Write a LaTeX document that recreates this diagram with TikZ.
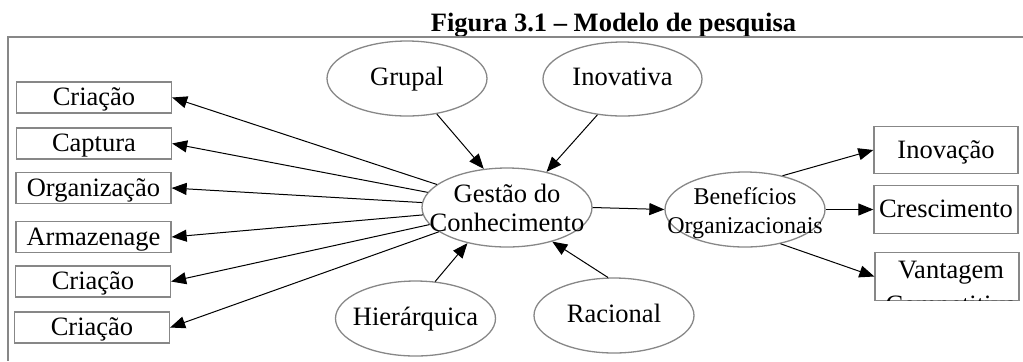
\documentclass[tikz,border=0pt]{standalone}
\usepackage{fontspec}
\setmainfont{Liberation Serif}
\usetikzlibrary{shapes.geometric,arrows.meta}

\definecolor{linegray}{RGB}{135,135,135}
\newcommand{\diagfont}{\fontsize{13.25}{14.5}\selectfont}
\newcommand{\smallfont}{\fontsize{12}{14.5}\selectfont}

\tikzset{
  lbox/.style={draw=linegray,line width=0.65pt,rectangle,inner sep=0pt,
    minimum width=77.5pt,minimum height=15.5pt,font=\diagfont,
    text height=.85em,text depth=.05em},
  rbox/.style={lbox,minimum width=72pt,minimum height=23.75pt},
  ell/.style={draw=linegray,line width=0.65pt,ellipse,inner sep=0pt,
    minimum width=80pt,minimum height=37.5pt},
  etxt/.style={font=\diagfont,align=center,inner sep=0pt},
  etxtone/.style={etxt,text height=.75em,text depth=.1em},
  arr/.style={-{Triangle[length=7.5pt,width=6pt]},line width=0.5pt}
}

\begin{document}
\begin{tikzpicture}[x=0.5pt,y=-0.5pt]
	\useasboundingbox (0,0) rectangle (1023,361);
	
	%TITLE AND FRAME
	\node[font=\diagfont\bfseries,anchor=base,inner sep=0pt] (title) at (613.5,31) {Figura 3.1 -- Modelo de pesquisa};
	\draw[draw=linegray,line width=0.65pt] (1023,37)--(8,37)--(8,361);
	
	%ELLIPSES
	\node[ell,label={[etxtone]center:Grupal}] (grupal) at (407,78.5) {};
	\node[ell,minimum width=79.5pt,minimum height=37pt,label={[etxtone]center:Inovativa}] (inova) at (622.5,79) {};
	\node[ell,minimum width=85pt,minimum height=39.5pt,label={[etxt]center:{Gestão do\\Conhecimento}}] (gc) at (507,207.5) {};
	\node[ell,label={[etxt,font=\smallfont,yshift=-2pt]center:{Benefícios\\Organizacionais}}] (ben) at (745,209.5) {};
	\node[ell,label={[etxtone]center:Hierárquica}] (hier) at (415.5,318.5) {};
	\node[ell,label={[etxtone]center:Racional}] (rac) at (614,315.5) {};
	
	%LEFT BOXES
	\node[lbox] (cri1) at (94,97.5) {Criação};
	\node[lbox] (capt) at (94,143.5) {Captura};
	\node[lbox] (org) at (93.5,188) {Organização};
	\node[lbox] (arm) at (93.5,237) {Armazenage};
	\node[lbox] (cri2) at (93,281.5) {Criação};
	\node[lbox] (cri3) at (92,327.5) {Criação};
	
	%RIGHT BOXES
	\node[rbox] (inov) at (946,150) {Inovação};
	\node[rbox] (cresc) at (946,209.5) {Crescimento};
	\node[rbox] (vant) at (947,276.5) {};
	\begin{scope}
		\clip (vant.south west) rectangle (vant.north east);
		\node[etxt,anchor=north] (vanttxt) at (951,261) {Vantagem\\[3pt]Competitiva};
	\end{scope}
	
	%ARROWS INTO GESTAO
	\draw[arr] (grupal.-50)--(gc.121);
	\draw[arr] (inova.-125)--(gc.42);
	\draw[arr] (hier.62)--(gc.222);
	\draw[arr] (rac.99)--(gc.-37);
	
	%ARROWS TO LEFT BOXES
	\draw[arr] (gc)--(cri1.east);
	\draw[arr] (gc)--(capt.east);
	\draw[arr] (gc)--(org.east);
	\draw[arr] (gc)--(arm.east);
	\draw[arr] (gc)--(cri2.east);
	\draw[arr] (gc)--(cri3.east);
	
	%ARROWS TO THE RIGHT
	\draw[arr] (gc.east)--(ben.west);
	\draw[arr] (ben.42)--(inov.west);
	\draw[arr] (ben.east)--(cresc.west);
	\draw[arr] (ben.-44)--(vant.west);
\end{tikzpicture}
\end{document}
